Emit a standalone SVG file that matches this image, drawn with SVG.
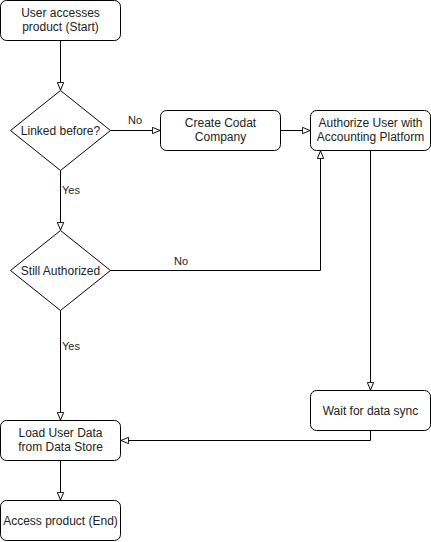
<svg xmlns="http://www.w3.org/2000/svg" width="431" height="542" viewBox="0 0 431 542">
<style>
.n{fill:#fff;stroke:#000;stroke-width:1}
.t{font-family:"Liberation Sans",Arial,sans-serif;font-size:12px;fill:#222;text-anchor:middle}
.l{font-family:"Liberation Sans",Arial,sans-serif;font-size:11px;fill:#222}
.c{fill:none;stroke:#000;stroke-width:1}
</style>
<defs>
<marker id="a" viewBox="0 0 10 10" refX="10" refY="5" markerWidth="8" markerHeight="8" markerUnits="userSpaceOnUse" orient="auto">
<path d="M0.5,1 L10,5 L0.5,9 Z" fill="#fff" stroke="#000" stroke-width="1.2"/>
</marker>
</defs>
<rect width="431" height="542" fill="#fff"/>
<g id="connectors">
<path class="c" d="M60.5,40.5 V90" marker-end="url(#a)"/>
<path class="c" d="M110.5,130.5 H160" marker-end="url(#a)"/>
<path class="c" d="M280.5,130.5 H310" marker-end="url(#a)"/>
<path class="c" d="M60.5,170.5 V230" marker-end="url(#a)"/>
<path class="c" d="M110.5,270.5 H320.5 V151" marker-end="url(#a)"/>
<path class="c" d="M60.5,310.5 V420" marker-end="url(#a)"/>
<path class="c" d="M370.5,150.5 V390" marker-end="url(#a)"/>
<path class="c" d="M370.5,430.5 V440.5 H121" marker-end="url(#a)"/>
<path class="c" d="M60.5,460.5 V500" marker-end="url(#a)"/>
<text class="l" x="128" y="124">No</text>
<text class="l" x="62" y="194">Yes</text>
<text class="l" x="174" y="265">No</text>
<text class="l" x="62" y="350">Yes</text>
</g>
<g id="start">
<rect class="n" x="0.5" y="0.5" width="120" height="40" rx="6"/>
<text class="t" x="60.5" y="17">User accesses</text>
<text class="t" x="60.5" y="31">product (Start)</text>
</g>
<g id="linked">
<path class="n" d="M60.5,90.5 L110.5,130.5 L60.5,170.5 L10.5,130.5 Z"/>
<text class="t" x="60.5" y="134.5">Linked before?</text>
</g>
<g id="create">
<rect class="n" x="160.5" y="110.5" width="120" height="40" rx="6"/>
<text class="t" x="220.5" y="127">Create Codat</text>
<text class="t" x="220.5" y="141">Company</text>
</g>
<g id="authorize">
<rect class="n" x="310.5" y="110.5" width="120" height="40" rx="6"/>
<text class="t" x="370.5" y="127">Authorize User with</text>
<text class="t" x="370.5" y="141">Accounting Platform</text>
</g>
<g id="still">
<path class="n" d="M60.5,230.5 L110.5,270.5 L60.5,310.5 L10.5,270.5 Z"/>
<text class="t" x="60.5" y="274.5">Still Authorized</text>
</g>
<g id="wait">
<rect class="n" x="310.5" y="390.5" width="120" height="40" rx="6"/>
<text class="t" x="370.5" y="414.5">Wait for data sync</text>
</g>
<g id="load">
<rect class="n" x="0.5" y="420.5" width="120" height="40" rx="6"/>
<text class="t" x="60.5" y="437">Load User Data</text>
<text class="t" x="60.5" y="451">from Data Store</text>
</g>
<g id="end">
<rect class="n" x="0.5" y="500.5" width="120" height="40" rx="6"/>
<text class="t" x="60.5" y="524.5">Access product (End)</text>
</g>
</svg>
